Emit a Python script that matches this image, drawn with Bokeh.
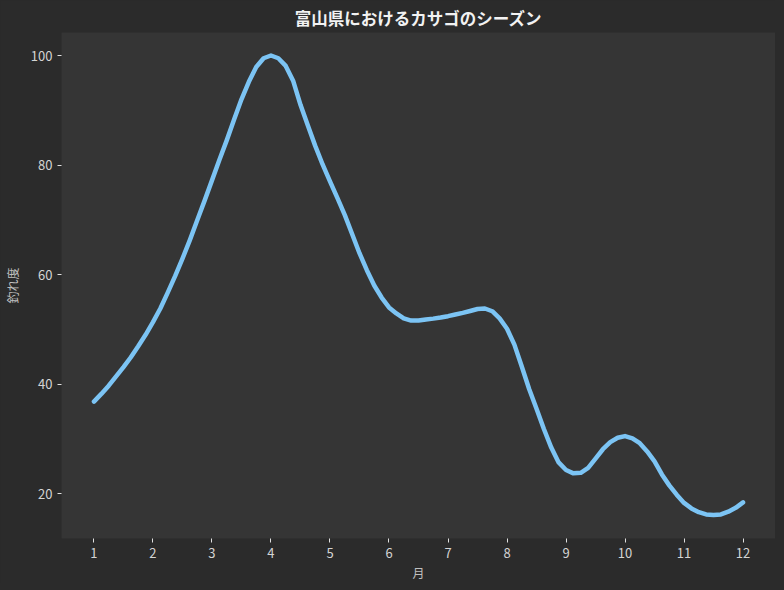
from bokeh.plotting import figure
from bokeh.models import Range1d, FixedTicker, ColumnDataSource
from bokeh.embed import file_html
from bokeh.resources import INLINE

# Curve (month, catch index), every 1/8 month
months = [1.000, 1.125, 1.250, 1.375, 1.500, 1.625, 1.750, 1.875,
          2.000, 2.125, 2.250, 2.375, 2.500, 2.625, 2.750, 2.875,
          3.000, 3.125, 3.250, 3.375, 3.500, 3.625, 3.750, 3.875,
          4.000, 4.125, 4.250, 4.375, 4.500, 4.625, 4.750, 4.875,
          5.000, 5.125, 5.250, 5.375, 5.500, 5.625, 5.750, 5.875,
          6.000, 6.125, 6.250, 6.375, 6.500, 6.625, 6.750, 6.875,
          7.000, 7.125, 7.250, 7.375, 7.500, 7.625, 7.750, 7.875,
          8.000, 8.125, 8.250, 8.375, 8.500, 8.625, 8.750, 8.875,
          9.000, 9.125, 9.250, 9.375, 9.500, 9.625, 9.750, 9.875,
          10.000, 10.125, 10.250, 10.375, 10.500, 10.625, 10.750, 10.875,
          11.000, 11.125, 11.250, 11.375, 11.500, 11.625, 11.750, 11.875,
          12.000]
catch_index = [36.8, 38.2, 39.7, 41.4, 43.1, 44.9, 46.9, 49.0,
               51.3, 53.8, 56.7, 59.7, 62.9, 66.3, 69.9, 73.5,
               77.2, 80.9, 84.5, 88.3, 92.0, 95.2, 97.9, 99.5,
               100.0, 99.5, 98.1, 95.4, 91.0, 87.2, 83.5, 80.1,
               77.0, 74.0, 70.9, 67.4, 63.9, 60.8, 58.0, 55.8,
               54.0, 52.9, 52.0, 51.6, 51.6, 51.8, 51.95, 52.15,
               52.4, 52.7, 53.0, 53.35, 53.7, 53.8, 53.3, 52.0,
               50.1, 47.2, 43.2, 39.1, 35.5, 31.8, 28.4, 25.7,
               24.3, 23.7, 23.8, 24.7, 26.4, 28.1, 29.4, 30.2,
               30.5, 30.1, 29.2, 27.7, 25.9, 23.5, 21.5, 19.8,
               18.3, 17.3, 16.6, 16.2, 16.1, 16.2, 16.7, 17.4,
               18.4]
x_ticks = [1, 2, 3, 4, 5, 6, 7, 8, 9, 10, 11, 12]
y_ticks = [20, 40, 60, 80, 100]

title_text = "富山県におけるカサゴのシーズン"
x_label = "月"
y_label = "釣れ度"

FONT = "Noto Sans CJK JP"
BG = "#2b2b2b"
PLOT_BG = "#353535"

p = figure(frame_width=714, frame_height=506, output_backend="svg", toolbar_location=None,
           x_range=Range1d(0.45, 12.55), y_range=Range1d(11.8, 104.2),
           title=title_text, min_border_left=53, min_border_right=0,
           min_border_top=28, min_border_bottom=44)

p.background_fill_color = PLOT_BG
p.border_fill_color = BG
p.outline_line_color = None
p.grid.visible = False

p.title.align = "center"
p.title.text_color = "#f2f2f2"
p.title.text_font = FONT
p.title.text_font_size = "16.5px"
p.title.text_font_style = "bold"
p.title.standoff = 6

src = ColumnDataSource(dict(x=months, y=catch_index))
p.line("x", "y", source=src, line_color="#7cc4f4", line_width=4.5,
       line_join="round", line_cap="round")

for ax, ticks, lab in ((p.xaxis[0], x_ticks, x_label), (p.yaxis[0], y_ticks, y_label)):
    ax.ticker = FixedTicker(ticks=ticks)
    ax.axis_line_color = None
    ax.major_tick_line_color = "#e0e0e0"
    ax.major_tick_out = 4
    ax.major_tick_in = 0
    ax.minor_tick_line_color = None
    ax.major_label_text_color = "#d4d4d4"
    ax.major_label_text_font = FONT
    ax.major_label_text_font_size = "13px"
    ax.axis_label = lab
    ax.axis_label_text_color = "#c0c0c0"
    ax.axis_label_text_font = FONT
    ax.axis_label_text_font_size = "12px"
    ax.axis_label_text_font_style = "normal"

p.xaxis.major_label_standoff = 5
p.yaxis.major_label_standoff = 5
p.xaxis.axis_label_standoff = 3
p.yaxis.axis_label_standoff = 7

html = file_html(p, INLINE)
html = html.replace("<head>", "<head><style>html,body{background:#2b2b2b;}</style>", 1)
open("out.html", "w").write(html)
